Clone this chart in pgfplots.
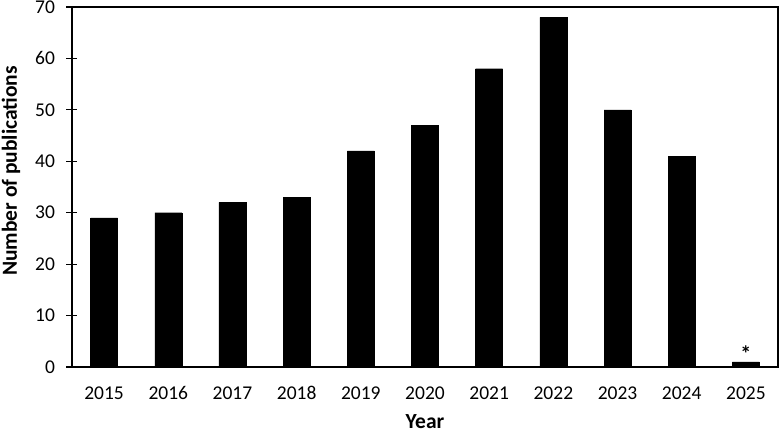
\documentclass[border=0pt]{standalone}
\usepackage{pgfplots}
\usepackage{fontspec}
\setmainfont{Carlito}
\pgfplotsset{compat=1.18}

\pgfplotstableread{
x year n
0 2015 29
1 2016 30
2 2017 32
3 2018 33
4 2019 42
5 2020 47
6 2021 58
7 2022 68
8 2023 50
9 2024 41
10 2025 1
}\pubs

\begin{document}
\begin{tikzpicture}
\begin{axis}[
    name=ax,
    scale only axis,
    width=706pt, height=360pt,
    xmin=-0.5, xmax=10.5,
    ymin=0, ymax=70,
    ytick={0,10,...,70},
    xtick={0,1,...,10},
    xticklabels={2015,2016,2017,2018,2019,2020,2021,2022,2023,2024,2025},
    x tick style={draw=none},
    ytick pos=left,
    y tick style={line width=1.2pt, black},
    tick align=center,
    major tick length=11pt,
    axis line style={line width=1.3pt},
    ticklabel style={font=\fontsize{19.5}{21}\selectfont},
    /pgf/number format/assume math mode=true,
    xticklabel style={anchor=center, text height=13pt, text depth=0pt,
        yshift=-21pt},
    yticklabel style={anchor=east, xshift=-8pt},
    xlabel={\textbf{Year}},
    ylabel={\textbf{Number of publications}},
    label style={font=\fontsize{21.5}{23}\selectfont},
    xlabel style={at={(axis description cs:0.5,0)}, anchor=center, yshift=-55pt},
    ylabel style={at={(axis description cs:0,0.5)}, anchor=center, xshift=16pt, yshift=61pt},
]
\addplot[ybar, bar width=27pt, fill=black, draw=black] table[x=x, y=n] {\pubs};
\addplot[only marks, mark=none, nodes near coords={\textbf{*}},
    every node near coord/.style={font=\fontsize{22}{24}\selectfont, anchor=south, yshift=-3pt}]
    coordinates {(10,1)};
\end{axis}
\pgfresetboundingbox
\path ([shift={(-72pt,-69pt)}]ax.south west) rectangle ([shift={(2pt,7pt)}]ax.north east);
\end{tikzpicture}
\end{document}
